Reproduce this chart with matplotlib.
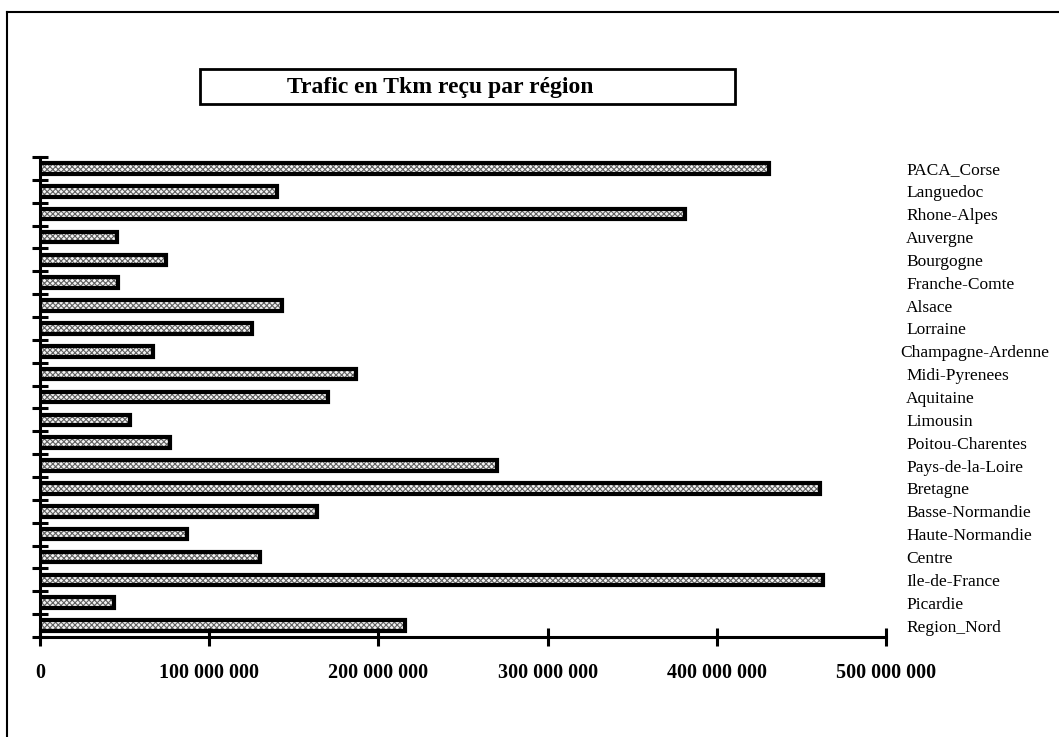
import matplotlib
matplotlib.use('Agg')
import matplotlib.pyplot as plt
from matplotlib.lines import Line2D
from matplotlib.patches import Rectangle
import matplotlib.transforms as mtransforms

regions = ['PACA_Corse', 'Languedoc', 'Rhone-Alpes', 'Auvergne', 'Bourgogne',
           'Franche-Comte', 'Alsace', 'Lorraine', 'Champagne-Ardenne',
           'Midi-Pyrenees', 'Aquitaine', 'Limousin', 'Poitou-Charentes',
           'Pays-de-la-Loire', 'Bretagne', 'Basse-Normandie', 'Haute-Normandie',
           'Centre', 'Ile-de-France', 'Picardie', 'Region_Nord']
trafic = [431e6, 140e6, 381e6, 45.5e6, 74.5e6,
          46e6, 143e6, 125e6, 67e6,
          187e6, 170e6, 53e6, 77e6,
          270e6, 461e6, 164e6, 87e6,
          130e6, 463e6, 44e6, 216e6]
xticks = [0, 100e6, 200e6, 300e6, 400e6, 500e6]
xlabels = ['0', '100 000 000', '200 000 000', '300 000 000', '400 000 000', '500 000 000']
titre = 'Trafic en Tkm reçu par région'

plt.rcParams['font.family'] = 'Liberation Serif'
plt.rcParams['hatch.linewidth'] = 0.8

fig = plt.figure(figsize=(10.59, 7.37), dpi=100)
ax = fig.add_axes([40/1059, 1 - 637/737, 846/1059, 480/737])

pos = list(range(len(regions)))
# fond tramé puis contour noir
ax.barh(pos, trafic, height=0.46, color='#f4f4f4', hatch='xxxxxx',
        edgecolor='#606060', linewidth=0)
ax.barh(pos, trafic, height=0.46, fill=False, edgecolor='black', linewidth=3)

ax.set_xlim(0, 5e8)
ax.set_ylim(len(regions) - 0.5, -0.5)

for s in ['top', 'right']:
    ax.spines[s].set_visible(False)
ax.spines['left'].set_linewidth(2.2)
ax.spines['bottom'].set_linewidth(2.2)

ax.set_xticks(xticks)
ax.set_xticklabels(xlabels, fontsize=14.5, fontweight='bold')
ax.tick_params(axis='x', direction='inout', length=13, width=2.2, pad=12)

ax.set_yticks(pos)
ax.set_yticklabels(regions, fontsize=12.5)
ax.tick_params(axis='y', which='major', left=False, right=False,
               labelleft=False, labelright=True, pad=11)
for lab in ax.get_yticklabels():
    lab.set_horizontalalignment('left')
    if lab.get_text() == 'Champagne-Ardenne':
        lab.set_transform(lab.get_transform() +
                          mtransforms.ScaledTranslation(-6/100, 0, fig.dpi_scale_trans))
ax.set_yticks([p - 0.5 for p in pos] + [len(regions) - 0.5], minor=True)
ax.tick_params(axis='y', which='minor', direction='inout', length=11, width=2.2)

# titre encadré
fig.add_artist(Rectangle((200/1059, 1 - 104/737), 535/1059, 35/737,
                         transform=fig.transFigure, fill=False,
                         edgecolor='black', linewidth=2))
fig.text(440/1059, 1 - 87/737, titre, fontsize=17, fontweight='bold',
         ha='center', va='center')

# cadre extérieur
fig.add_artist(Line2D([7/1059, 1], [1 - 12/737, 1 - 12/737], color='black', linewidth=1.5))
fig.add_artist(Line2D([7/1059, 7/1059], [0, 1 - 12/737], color='black', linewidth=1.5))

fig.savefig('out.png', dpi=100)
